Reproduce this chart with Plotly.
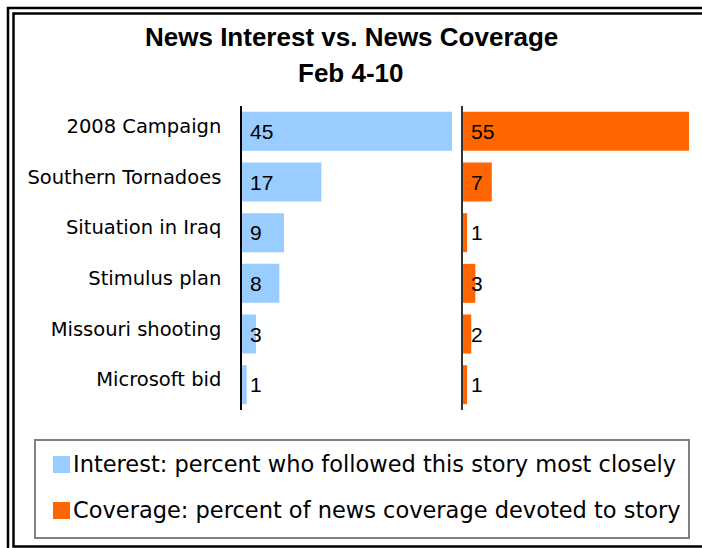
import plotly.graph_objects as go

# ---- data ----
categories = ["2008 Campaign", "Southern Tornadoes", "Situation in Iraq",
              "Stimulus plan", "Missouri shooting", "Microsoft bid"]
interest = [45, 17, 9, 8, 3, 1]
coverage = [55, 7, 1, 3, 2, 1]
series_names = ["Interest: percent who followed this story most closely",
                "Coverage: percent of news coverage devoted to story"]
title_line1 = "News Interest vs. News Coverage"
title_line2 = "Feb 4-10"

BLUE = "#99CCFF"
ORANGE = "#FF6600"
W, H = 702, 548


def px(x):
    return x / W


def py(y):
    return 1 - y / H


fig = go.Figure()
fig.add_trace(go.Bar(x=interest, y=categories, orientation="h",
                     marker=dict(color=BLUE, line=dict(width=0)),
                     name=series_names[0], xaxis="x", yaxis="y",
                     hoverinfo="x+y"))
fig.add_trace(go.Bar(x=coverage, y=categories, orientation="h",
                     marker=dict(color=ORANGE, line=dict(width=0)),
                     name=series_names[1], xaxis="x2", yaxis="y2",
                     hoverinfo="x+y"))

ydom = [py(410), py(106)]
fig.update_layout(
    width=W, height=H,
    margin=dict(l=0, r=0, t=0, b=0),
    paper_bgcolor="white", plot_bgcolor="white",
    showlegend=False, bargap=0.23,
    xaxis=dict(domain=[px(242), px(455)], range=[0, 45.64],
               showgrid=False, zeroline=False, showticklabels=False,
               showline=False, fixedrange=True),
    xaxis2=dict(domain=[px(463), px(690)], range=[0, 55.24],
                showgrid=False, zeroline=False, showticklabels=False,
                showline=False, anchor="y2", fixedrange=True),
    yaxis=dict(domain=ydom, type="category", categoryorder="array",
               categoryarray=categories, autorange="reversed",
               showline=True, linecolor="black", linewidth=1.5,
               ticks="", ticklabelstandoff=15, ticklabelshift=5,
               showgrid=False,
               tickfont=dict(family="DejaVu Sans", size=19.5, color="black"),
               anchor="x"),
    yaxis2=dict(domain=ydom, type="category", categoryorder="array",
                categoryarray=categories, autorange="reversed",
                showline=True, linecolor="#333333", linewidth=1.5,
                showticklabels=False, ticks="", showgrid=False,
                anchor="x2"),
)

annotations = []
# value labels
for axx, axy, vals in (("x", "y", interest), ("x2", "y2", coverage)):
    for c, v in zip(categories, vals):
        annotations.append(dict(
            x=0, y=c, xref=axx, yref=axy, text=str(v), showarrow=False,
            xanchor="left", yanchor="middle", xshift=6,
            font=dict(family="Liberation Sans, Arial", size=21, color="black")))

# titles
annotations.append(dict(x=0.5, y=py(37), xref="paper", yref="paper",
                        text="<b>%s</b>" % title_line1, showarrow=False,
                        xanchor="center", yanchor="middle",
                        font=dict(family="Liberation Sans, Arial", size=26,
                                  color="black")))
annotations.append(dict(x=0.5, y=py(73), xref="paper", yref="paper",
                        text="<b>%s</b>" % title_line2, showarrow=False,
                        xanchor="center", yanchor="middle",
                        font=dict(family="Liberation Sans, Arial", size=26,
                                  color="black")))

# legend texts
for name, yc in zip(series_names, (464, 510)):
    annotations.append(dict(x=px(71), y=py(yc), xref="paper", yref="paper",
                            text=name, showarrow=False,
                            xanchor="left", yanchor="middle",
                            font=dict(family="DejaVu Sans", size=22.5,
                                      color="black")))

shapes = [
    # outer double frame
    dict(type="rect", xref="paper", yref="paper",
         x0=px(8), x1=px(760), y0=py(8), y1=py(600),
         line=dict(color="black", width=2.5), fillcolor="rgba(0,0,0,0)"),
    dict(type="rect", xref="paper", yref="paper",
         x0=px(13.5), x1=px(760), y0=py(13.5), y1=py(546.5),
         line=dict(color="black", width=2.5), fillcolor="rgba(0,0,0,0)"),
    # legend box
    dict(type="rect", xref="paper", yref="paper",
         x0=px(35), x1=px(689), y0=py(538), y1=py(440),
         line=dict(color="#808080", width=2), fillcolor="rgba(0,0,0,0)"),
    # legend swatches
    dict(type="rect", xref="paper", yref="paper",
         x0=px(53), x1=px(70), y0=py(473), y1=py(456),
         line=dict(width=0), fillcolor=BLUE),
    dict(type="rect", xref="paper", yref="paper",
         x0=px(53), x1=px(70), y0=py(519), y1=py(502),
         line=dict(width=0), fillcolor=ORANGE),
]

fig.update_layout(annotations=annotations, shapes=shapes)
fig.write_html("out.html")
